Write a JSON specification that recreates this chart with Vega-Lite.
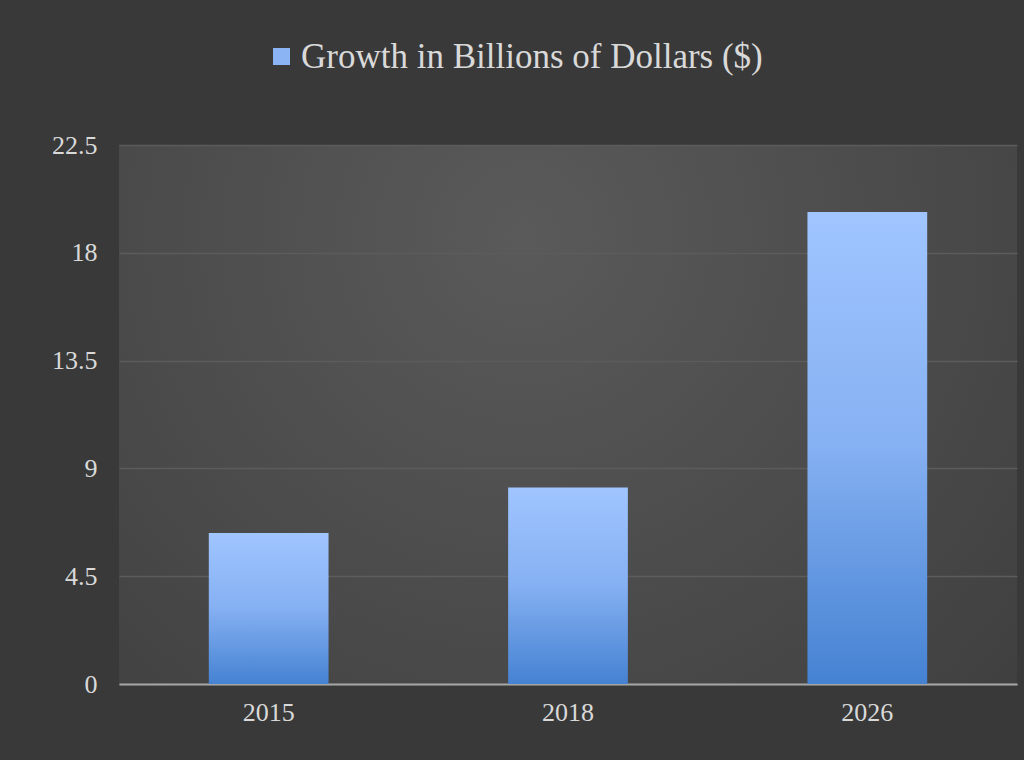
{
  "$schema": "https://vega.github.io/schema/vega-lite/v6.json",
  "width": 898,
  "height": 539,
  "autosize": {"type": "none"},
  "padding": {"left": 119, "top": 145, "right": 7, "bottom": 76},
  "background": "#393939",
  "data": {
    "values": [
      {"year": "2015", "value": 6.3, "series": "Growth in Billions of Dollars ($)"},
      {"year": "2018", "value": 8.2, "series": "Growth in Billions of Dollars ($)"},
      {"year": "2026", "value": 19.7, "series": "Growth in Billions of Dollars ($)"}
    ]
  },
  "encoding": {
    "x": {
      "field": "year",
      "type": "nominal",
      "scale": {"paddingInner": 0.6, "paddingOuter": 0.3},
      "axis": {
        "title": null,
        "labelAngle": 0,
        "labelFont": "Liberation Serif",
        "labelFontSize": 26,
        "labelColor": "#d9d9d9",
        "labelPadding": 15,
        "ticks": false,
        "domain": true,
        "domainColor": "#a6a6a6",
        "domainWidth": 2,
        "grid": false
      }
    },
    "y": {
      "field": "value",
      "type": "quantitative",
      "scale": {"domain": [0, 22.5], "nice": false, "zero": true},
      "axis": {
        "title": null,
        "values": [0, 4.5, 9, 13.5, 18, 22.5],
        "format": ".1~f",
        "labelFont": "Liberation Serif",
        "labelFontSize": 26,
        "labelColor": "#d9d9d9",
        "labelPadding": 22,
        "ticks": false,
        "domain": false,
        "grid": true,
        "gridColor": "#5c5c5c",
        "gridWidth": 1.5
      }
    }
  },
  "layer": [
    {
      "mark": {
        "type": "bar",
        "color": {
          "gradient": "linear",
          "x1": 0, "y1": 0, "x2": 0, "y2": 1,
          "stops": [
            {"offset": 0, "color": "#a0c5ff"},
            {"offset": 0.5, "color": "#85b0f2"},
            {"offset": 1, "color": "#4582d2"}
          ]
        }
      }
    },
    {
      "mark": {"type": "point", "filled": true, "opacity": 0},
      "encoding": {
        "color": {
          "field": "series",
          "type": "nominal",
          "scale": {"range": ["#8ab4f4"]},
          "legend": {
            "title": null,
            "orient": "none",
            "legendX": 145,
            "legendY": -106,
            "padding": 0,
            "symbolType": "square",
            "symbolSize": 289,
            "symbolStrokeWidth": 0,
            "labelFont": "Liberation Serif",
            "labelFontSize": 35,
            "labelColor": "#d9d9d9",
            "labelOffset": 2,
            "labelLimit": 800,
            "symbolOpacity": 1,
            "encode": {
              "symbols": {
                "update": {
                  "opacity": {"value": 1},
                  "fill": {
                    "value": {
                      "gradient": "linear",
                      "x1": 0, "y1": 0, "x2": 0, "y2": 1,
                      "stops": [
                        {"offset": 0, "color": "#a0c5ff"},
                        {"offset": 1, "color": "#4a86d6"}
                      ]
                    }
                  }
                }
              }
            }
          }
        }
      }
    }
  ],
  "config": {
    "view": {
      "stroke": null,
      "fill": {
        "gradient": "radial",
        "x1": 0.45, "y1": 0.3, "r1": 0,
        "x2": 0.45, "y2": 0.3, "r2": 0.85,
        "stops": [
          {"offset": 0, "color": "#5a5a5a"},
          {"offset": 1, "color": "#3c3c3c"}
        ]
      }
    }
  }
}
